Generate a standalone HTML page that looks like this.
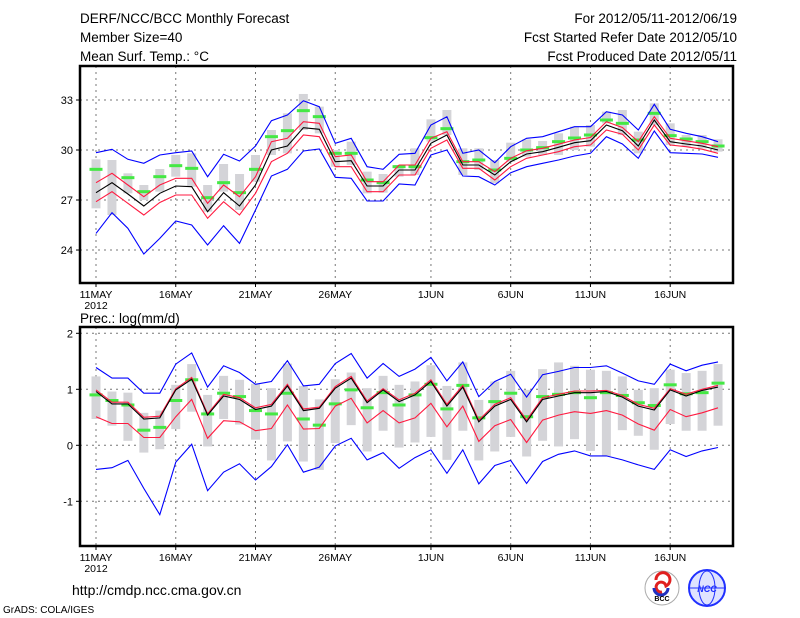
<!DOCTYPE html>
<html><head><meta charset="utf-8"><style>
body{margin:0;background:#fff;width:800px;height:618px;overflow:hidden}
svg{display:block}
text{font-family:"Liberation Sans",sans-serif;fill:#000}
</style></head><body>
<svg id="chart" width="800" height="618" viewBox="0 0 800 618" xmlns="http://www.w3.org/2000/svg">
<g font-size="13.5">
<text x="80" y="23">DERF/NCC/BCC Monthly Forecast</text>
<text x="80" y="42">Member Size=40</text>
<text x="80" y="61">Mean Surf. Temp.: °C</text>
<text x="737" y="23" text-anchor="end">For 2012/05/11-2012/06/19</text>
<text x="737" y="42" text-anchor="end">Fcst Started Refer Date 2012/05/10</text>
<text x="737" y="61" text-anchor="end">Fcst Produced Date 2012/05/11</text>
<text x="80" y="323">Prec.: log(mm/d)</text>
</g>
<g id="top"></g>
<g id="bot"></g>
<text x="72" y="595" font-size="14">http://cmdp.ncc.cma.gov.cn</text>
<text x="3" y="613" font-size="10">GrADS: COLA/IGES</text>
<g>
<circle cx="662" cy="588" r="17" fill="#fff" stroke="#aaa"/>
<path d="M656 580 a7 7 0 1 1 10 6 a5 5 0 1 0 -4 6" fill="none" stroke="#e02020" stroke-width="3"/>
<path d="M654 588 a7 7 0 0 0 14 0" fill="none" stroke="#2030c0" stroke-width="3"/>
<text x="662" y="601" font-size="7" text-anchor="middle" font-weight="bold">BCC</text>
</g>
<g>
<circle cx="707" cy="588" r="18" fill="#dfe3ff" stroke="#2030ff" stroke-width="2"/>
<ellipse cx="707" cy="588" rx="8" ry="17" fill="none" stroke="#2030ff"/>
<line x1="690" y1="588" x2="724" y2="588" stroke="#2030ff"/>
<text x="707" y="592" font-size="9" text-anchor="middle" font-style="italic" font-weight="bold" style="fill:#2030ff">NCC</text>
</g>
</svg>
<script>
const dayLabels=["11MAY","16MAY","21MAY","26MAY","1JUN","6JUN","11JUN","16JUN"];
const dayLabelIdx=[0,5,10,15,21,26,31,36];
// Temperature panel (°C)
const tMean=[27.44,28.04,27.36,26.64,27.4,27.84,27.8,26.3,27.44,26.64,27.9,30.0,30.24,31.34,31.24,29.3,29.36,27.84,27.84,28.8,28.8,30.4,30.9,29.1,29.1,28.5,29.3,29.76,29.9,30.16,30.44,30.56,31.5,31.16,30.24,31.8,30.5,30.36,30.24,30.0];
const tRedUp=[28.04,28.6,27.9,27.2,27.9,28.3,28.3,26.8,27.9,27.2,28.4,30.5,30.7,31.7,31.6,29.6,29.7,28.1,28.1,29.1,29.1,30.7,31.1,29.3,29.3,28.7,29.5,29.95,30.1,30.35,30.6,30.75,31.7,31.35,30.5,32.0,30.7,30.55,30.4,30.2];
const tRedLo=[26.9,27.5,26.8,26.1,26.85,27.3,27.3,25.9,26.9,26.1,27.4,29.3,29.8,30.9,30.8,29.0,29.0,27.5,27.5,28.5,28.5,30.1,30.6,28.9,28.9,28.2,29.0,29.5,29.7,29.9,30.2,30.3,31.2,30.95,30.0,31.5,30.3,30.2,30.05,29.8];
const tMax=[29.84,30.04,29.44,29.2,29.7,29.84,29.94,28.4,29.74,29.34,30.24,31.76,32.1,32.96,32.6,30.4,30.7,29.0,28.84,29.74,29.8,31.5,32.0,29.8,30.0,29.24,30.2,30.7,30.8,31.1,31.4,31.4,32.3,32.1,31.2,32.74,31.24,31.0,30.8,30.5];
const tMin=[25.0,26.24,25.3,23.76,24.7,25.74,25.5,24.3,25.46,24.4,26.4,28.44,28.84,29.94,30.06,28.36,28.3,26.94,26.94,27.96,27.9,29.7,30.0,28.44,28.4,27.9,28.64,29.0,29.2,29.4,29.64,29.8,30.8,30.36,29.5,31.14,29.84,29.8,29.76,29.56];
const tObs=[28.84,null,28.34,27.5,28.4,29.06,28.9,27.14,28.04,27.44,28.84,30.8,31.16,32.36,32.0,29.8,29.8,28.2,28.04,29.0,29.0,30.74,31.28,29.3,29.4,28.8,29.5,30.0,30.14,30.5,30.72,30.9,31.8,31.6,30.6,32.2,30.86,30.66,30.5,30.24];
const tBoxTop=[29.44,29.4,28.6,27.9,28.86,29.7,29.8,27.9,29.16,28.56,29.7,31.2,32.2,33.36,32.6,30.0,30.5,28.7,28.56,29.1,30.1,31.84,32.4,30.1,30.1,29.4,30.44,30.64,30.54,31.0,31.4,31.5,32.3,32.4,31.1,32.8,31.6,30.9,30.9,30.64];
const tBoxBot=[26.5,26.1,27.4,27.0,27.5,28.4,27.8,26.3,27.5,26.4,28.1,29.7,29.8,31.2,31.0,29.0,29.1,27.4,27.44,28.4,28.5,30.5,30.9,28.5,28.8,28.0,29.3,29.6,29.7,29.7,30.0,30.2,31.6,30.9,29.8,31.5,30.3,30.2,30.1,29.9];
const tTicks=[24,27,30,33];
// Precipitation panel (log mm/d)
const pMean=[0.96,0.74,0.74,0.47,0.49,0.99,1.18,0.54,0.88,0.82,0.64,0.70,1.06,0.62,0.66,1.02,1.20,0.76,0.99,0.78,0.9,1.14,0.70,1.04,0.42,0.70,0.82,0.42,0.82,0.88,0.94,0.94,0.96,0.86,0.70,0.63,0.99,0.88,0.98,1.04];
const pRedUp=[0.99,0.77,0.77,0.50,0.52,1.01,1.21,0.56,0.91,0.85,0.67,0.73,1.09,0.65,0.68,1.05,1.23,0.79,1.01,0.81,0.93,1.17,0.73,1.07,0.45,0.73,0.85,0.45,0.85,0.91,0.97,0.97,0.98,0.89,0.73,0.66,1.01,0.91,1.0,1.07];
const pRedLo=[0.51,0.39,0.39,0.14,0.14,0.51,0.82,0.125,0.44,0.42,0.26,0.30,0.72,0.29,0.30,0.70,0.84,0.40,0.62,0.40,0.49,0.75,0.33,0.70,0.07,0.35,0.46,0.05,0.45,0.54,0.60,0.57,0.62,0.54,0.38,0.27,0.64,0.51,0.58,0.67];
const pMax=[1.39,1.20,1.20,0.93,0.93,1.45,1.65,1.04,1.42,1.30,1.09,1.14,1.51,1.06,1.09,1.46,1.64,1.20,1.46,1.23,1.36,1.57,1.15,1.49,0.87,1.14,1.27,0.86,1.26,1.32,1.39,1.39,1.42,1.29,1.15,1.09,1.45,1.33,1.43,1.49];
const pMin=[-0.43,-0.40,-0.27,-0.77,-1.24,-0.30,0.02,-0.81,-0.48,-0.33,-0.62,-0.38,0.01,-0.48,-0.39,-0.01,0.125,-0.26,-0.13,-0.41,-0.22,-0.08,-0.5,-0.08,-0.69,-0.36,-0.27,-0.68,-0.29,-0.16,-0.10,-0.19,-0.19,-0.26,-0.35,-0.43,-0.08,-0.20,-0.10,-0.04];
const pObs=[0.90,0.80,0.72,0.27,0.32,0.80,1.17,0.56,0.93,0.87,0.62,0.56,0.93,0.47,0.36,0.74,0.99,0.67,0.94,0.72,0.90,1.09,0.65,1.07,0.49,0.78,0.93,0.51,0.87,0.91,0.94,0.85,0.94,0.89,0.76,0.71,1.08,0.92,0.94,1.11];
const pBoxTop=[1.23,0.96,0.94,0.58,0.62,1.08,1.45,0.90,1.24,1.17,1.10,1.02,1.46,1.06,0.82,1.18,1.30,1.02,1.24,1.08,1.14,1.43,1.06,1.48,0.81,1.14,1.33,0.99,1.36,1.48,1.42,1.35,1.33,1.23,0.99,1.02,1.35,1.29,1.33,1.45];
const pBoxBot=[0.47,0.35,0.08,-0.13,-0.07,0.29,0.60,-0.02,0.47,0.37,0.10,-0.27,0.07,-0.29,-0.44,0.04,0.36,-0.11,0.26,-0.04,0.05,0.15,-0.26,0.26,-0.27,-0.11,0.15,-0.20,0.08,-0.02,0.11,-0.10,-0.19,0.27,0.17,-0.08,0.38,0.26,0.26,0.35];
const pTicks=[-1,0,1,2];

const NS="http://www.w3.org/2000/svg";
const xDay=i=>96+15.95*i;
function mk(parent,tag,attrs){const e=document.createElementNS(NS,tag);for(const k in attrs)e.setAttribute(k,attrs[k]);parent.appendChild(e);return e;}
function panel(g,top,bottom,yScale,ticks,mean,ru,rl,mx,mn,obs,bt,bb,pre){
  const L=80,R=733;
  ticks.forEach(t=>{const y=yScale(t);
    const gl=mk(g,'line',{x1:L,x2:R,y1:y,y2:y,stroke:'#777','stroke-dasharray':'2,4'});
    
    
    const tk=mk(g,'line',{x1:L-4,x2:L,y1:y,y2:y,stroke:'#000'});
    
    
    const tx=mk(g,'text',{x:L-7,y:y+4,'text-anchor':'end','font-size':'11'});tx.textContent=t;
    
    
  });
  dayLabelIdx.forEach((d,k)=>{const x=xDay(d);
    const gl=mk(g,'line',{x1:x,x2:x,y1:top,y2:bottom,stroke:'#777','stroke-dasharray':'2,4'});
    
    
    const tk=mk(g,'line',{x1:x,x2:x,y1:bottom,y2:bottom+4,stroke:'#000'});
    
    
    const tx=mk(g,'text',{x:x,y:bottom+15,'text-anchor':'middle','font-size':'10.5'});tx.textContent=dayLabels[k];
    
    
  });
  const yr=mk(g,'text',{x:96,y:bottom+26,'text-anchor':'middle','font-size':'10.5'});yr.textContent='2012';
  
  
  for(let i=0;i<mean.length;i++){
    const y1=yScale(bt[i]),y2=yScale(bb[i]);
    const b=mk(g,'rect',{x:xDay(i)-4.5,y:y1,width:9,height:y2-y1,fill:'#d4d4d8'});
    
    
  }
  for(let i=0;i<obs.length;i++){ if(obs[i]==null)continue;
    const o=mk(g,'rect',{x:xDay(i)-6.5,y:yScale(obs[i])-1.5,width:13,height:3,fill:'#44e844'});
    
    
  }
  const line=(arr,col,name)=>{const p=mk(g,'polyline',{points:arr.map((v,i)=>xDay(i).toFixed(1)+','+yScale(v).toFixed(1)).join(' '),fill:'none',stroke:col,'stroke-width':1.1});
    
    };
  line(mx,'#0000ff',pre+'-max-line');line(mn,'#0000ff',pre+'-min-line');
  line(ru,'#ff1a40',pre+'-upper-line');line(rl,'#ff1a40',pre+'-lower-line');
  line(mean,'#000',pre+'-ensemble-mean-line');
  const f=mk(g,'rect',{x:L,y:top,width:R-L,height:bottom-top,fill:'none',stroke:'#000','stroke-width':2.5});
  
  
}
panel(document.getElementById('top'),66,283,v=>150-(v-30)*16.67,tTicks,tMean,tRedUp,tRedLo,tMax,tMin,tObs,tBoxTop,tBoxBot,'temp');
panel(document.getElementById('bot'),327,546,v=>445.3-v*56,pTicks,pMean,pRedUp,pRedLo,pMax,pMin,pObs,pBoxTop,pBoxBot,'prec');
</script>
</body></html>
